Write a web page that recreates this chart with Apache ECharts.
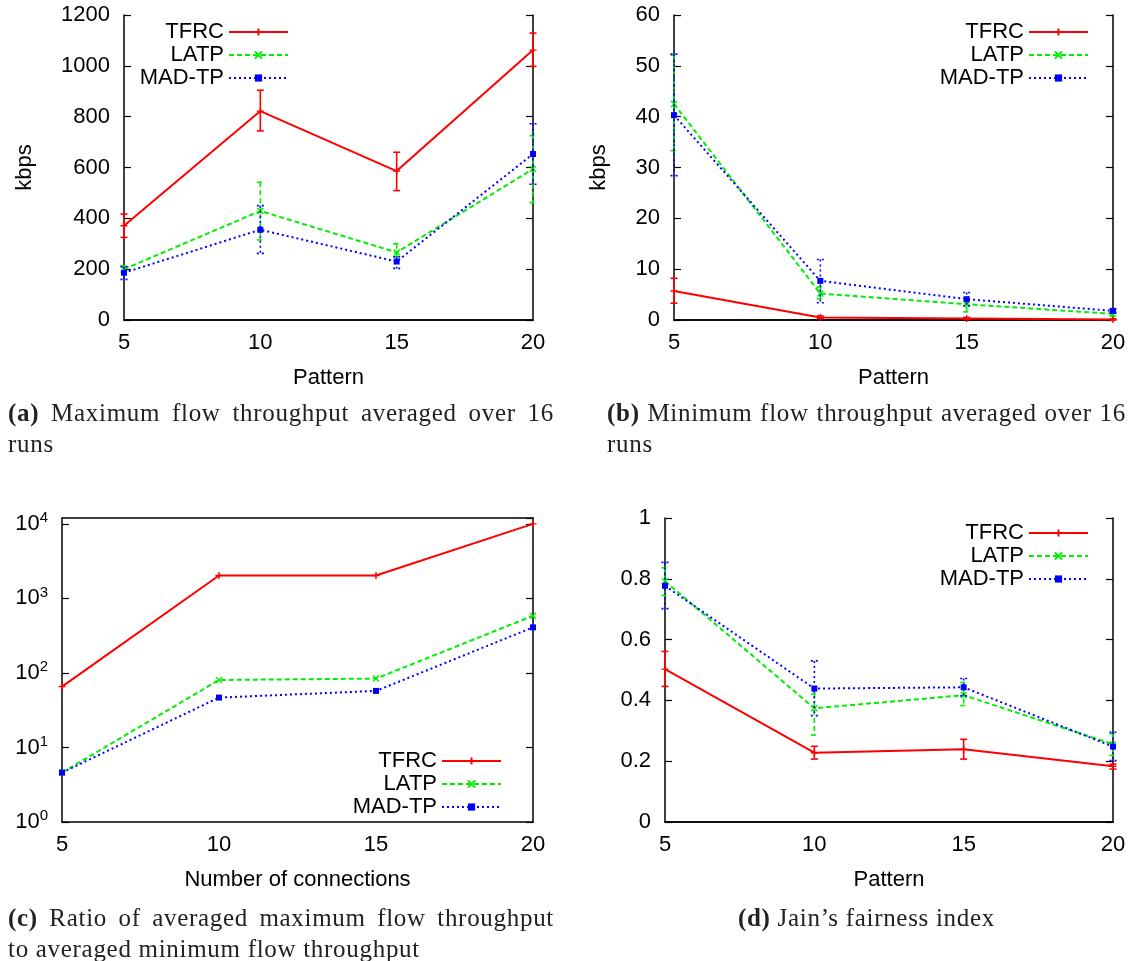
<!DOCTYPE html>
<html>
<head>
<meta charset="utf-8">
<script src="https://cdn.jsdelivr.net/npm/echarts@6/dist/echarts.min.js"></script>
<style>
  html, body { margin: 0; padding: 0; background: #fff; }
  #wrap { position: relative; width: 1129px; height: 961px; }
  #chart { position: absolute; left: 0; top: 0; width: 1129px; height: 961px; }
  .cap { position: absolute; font-family: "Liberation Serif", serif; font-size: 25px; letter-spacing: 0.7px; color: #222; line-height: 31px; }
  .cap .l1 { text-align: justify; text-align-last: justify; white-space: nowrap; }
</style>
</head>
<body>
<div id="wrap">
  <div id="chart"></div>
  <div class="cap" style="left:8px; top:397px; width:546px">
    <div class="l1"><b>(a)</b> Maximum flow throughput averaged over 16</div>
    <div>runs</div>
  </div>
  <div class="cap" style="left:607px; top:397px; width:519px">
    <div class="l1"><b>(b)</b> Minimum flow throughput averaged over 16</div>
    <div>runs</div>
  </div>
  <div class="cap" style="left:8px; top:902px; width:546px">
    <div class="l1"><b>(c)</b> Ratio of averaged maximum flow throughput</div>
    <div>to averaged minimum flow throughput</div>
  </div>
  <div class="cap" style="left:607px; top:902px; width:519px; text-align:center">
    <div><b>(d)</b> Jain’s fairness index</div>
  </div>
</div>
<script>
const patterns = [5, 10, 15, 20];
const names = ["TFRC", "LATP", "MAD-TP"];

// (a) maximum flow throughput (kbps)
const maxTfrc = [371, 822, 586, 1062];
const maxTfrcLo = [325, 744, 509, 998];
const maxTfrcHi = [417, 904, 660, 1129];
const maxLatp = [200, 429, 266, 594];
const maxLatpLo = [188, 315, 249, 462];
const maxLatpHi = [214, 542, 300, 725];
const maxMad = [186, 355, 230, 653];
const maxMadLo = [160, 262, 203, 534];
const maxMadHi = [210, 450, 249, 772];

// (b) minimum flow throughput (kbps)
const minTfrc = [5.7, 0.5, 0.3, 0.1];
const minTfrcLo = [3.3, 0.3, 0.2, 0.0];
const minTfrcHi = [8.2, 0.8, 0.5, 0.2];
const minLatp = [42.5, 5.2, 3.1, 1.2];
const minLatpLo = [33.3, 4.2, 1.6, 0.8];
const minLatpHi = [52.1, 6.5, 4.3, 1.6];
const minMad = [40.3, 7.7, 4.1, 1.8];
const minMadLo = [28.4, 3.4, 2.8, 1.4];
const minMadHi = [52.3, 11.9, 5.4, 2.2];

// (c) ratio max / min, against number of connections
const ratioTfrc = [65.6, 2030, 2030, 10000];
const ratioLatp = [4.6, 80.5, 84, 586];
const ratioMad = [4.6, 46.7, 57.4, 409];

// (d) Jain's fairness index
const jainTfrc = [0.503, 0.228, 0.239, 0.183];
const jainTfrcLo = [0.446, 0.207, 0.207, 0.174];
const jainTfrcHi = [0.561, 0.249, 0.272, 0.190];
const jainLatp = [0.792, 0.374, 0.417, 0.256];
const jainLatpLo = [0.745, 0.286, 0.383, 0.219];
const jainLatpHi = [0.836, 0.421, 0.459, 0.290];
const jainMad = [0.777, 0.439, 0.443, 0.248];
const jainMadLo = [0.702, 0.350, 0.415, 0.202];
const jainMadHi = [0.854, 0.530, 0.472, 0.295];

const font = "Liberation Sans";
const fs = 22;
const looks = [
  { color: "#ff0000", type: "solid", dash: null, symbol: "path://M0,4L8,4M4,0L4,8", size: 7 },
  { color: "#00ee00", type: [5, 3], dash: [5, 3], symbol: "path://M0,0L8,8M8,0L0,8", size: 6 },
  { color: "#0000ff", type: [2, 3], dash: [2, 3], symbol: "rect", size: 6 }
];

function lineSeries(k, gi, values) {
  const look = looks[k];
  return {
    type: "line", name: names[k], xAxisIndex: gi * 2, yAxisIndex: gi * 2,
    data: patterns.map((x, i) => [x, values[i]]),
    symbol: look.symbol, symbolSize: look.size, showSymbol: true,
    lineStyle: { color: look.color, width: 2, type: look.type },
    itemStyle: { color: look.color, borderColor: look.color, borderWidth: k === 2 ? 0 : 1.4 },
    z: 4 + k
  };
}

function errorSeries(k, gi, lo, hi) {
  const look = looks[k];
  return {
    type: "custom", name: names[k] + " error", xAxisIndex: gi * 2, yAxisIndex: gi * 2,
    data: patterns.map((x, i) => [x, lo[i], hi[i]]),
    encode: { x: 0, y: [1, 2] }, silent: true, z: 4 + k,
    renderItem(params, api) {
      const top = api.coord([api.value(0), api.value(2)]);
      const bot = api.coord([api.value(0), api.value(1)]);
      const w = 3.5;
      const style = { stroke: look.color, lineWidth: 1.6, lineDash: look.dash, fill: null };
      return {
        type: "group",
        children: [
          { type: "line", shape: { x1: top[0], y1: top[1], x2: bot[0], y2: bot[1] }, style },
          { type: "line", shape: { x1: top[0] - w, y1: top[1], x2: top[0] + w, y2: top[1] }, style },
          { type: "line", shape: { x1: bot[0] - w, y1: bot[1], x2: bot[0] + w, y2: bot[1] }, style }
        ]
      };
    }
  };
}

const panels = [
  { grid: { left: 124, top: 15, width: 409, height: 305 }, y: { type: "value", min: 0, max: 1200, interval: 200 },
    xName: "Pattern", yName: "kbps", yNameGap: 88,
    legend: { right: 840, top: 21 } },
  { grid: { left: 674, top: 15, width: 439, height: 305 }, y: { type: "value", min: 0, max: 60, interval: 10 },
    xName: "Pattern", yName: "kbps", yNameGap: 64,
    legend: { right: 40, top: 21 } },
  { grid: { left: 62, top: 518, width: 471, height: 304 }, y: { type: "log", logBase: 10, min: 1, max: 12000 },
    xName: "Number of connections", yName: "", yNameGap: 0,
    legend: { right: 627, top: 750 } },
  { grid: { left: 665, top: 518, width: 448, height: 304 }, y: { type: "value", min: 0, max: 1, interval: 0.2 },
    xName: "Pattern", yName: "", yNameGap: 0,
    legend: { right: 40, top: 522 } }
];

const labelStyle = { color: "#000", fontFamily: font, fontSize: fs };
const axisLine = { show: true, lineStyle: { color: "#000", width: 1.5 } };

const grids = [], xAxes = [], yAxes = [], legends = [];
panels.forEach((p, gi) => {
  grids.push(p.grid);
  xAxes.push({
    type: "value", gridIndex: gi, min: 5, max: 20, interval: 5, position: "bottom",
    name: p.xName, nameLocation: "middle", nameGap: 47,
    nameTextStyle: { color: "#000", fontFamily: font, fontSize: fs },
    axisLine, axisTick: { show: false }, splitLine: { show: false },
    axisLabel: { ...labelStyle, margin: 12 }
  });
  xAxes.push({
    type: "value", gridIndex: gi, min: 5, max: 20, interval: 5, position: "top",
    axisLine, axisTick: { show: false }, axisLabel: { show: false }, splitLine: { show: false }
  });
  const isLog = p.y.type === "log";
  const leftLabel = isLog
    ? {
        margin: 14, showMaxLabel: false,
        formatter: v => {
          const e = Math.log10(v);
          return Math.abs(e - Math.round(e)) < 1e-6 ? "{b|10}{s|" + Math.round(e) + "}" : "";
        },
        rich: {
          b: { color: "#000", fontFamily: font, fontSize: fs },
          s: { color: "#000", fontFamily: font, fontSize: 15, padding: [0, 0, 12, 0] }
        }
      }
    : { ...labelStyle, margin: 14, formatter: v => String(v) };
  yAxes.push({
    ...p.y, gridIndex: gi, position: "left",
    name: p.yName, nameLocation: "middle", nameGap: p.yNameGap, nameRotate: 90,
    nameTextStyle: { color: "#000", fontFamily: font, fontSize: fs },
    axisLine, axisTick: { show: true, inside: true, length: 7, lineStyle: { color: "#000", width: 1.2 } },
    splitLine: { show: false }, minorTick: { show: false },
    axisLabel: leftLabel
  });
  yAxes.push({
    ...p.y, gridIndex: gi, position: "right",
    axisLine, axisTick: { show: true, inside: true, length: 7, lineStyle: { color: "#000", width: 1.2 } },
    splitLine: { show: false }, axisLabel: { show: false }
  });
  legends.push({
    ...p.legend, orient: "vertical", align: "right", padding: 0, itemGap: 1,
    itemWidth: 59, itemHeight: 9, selectedMode: false,
    data: names,
    textStyle: { color: "#000", fontFamily: font, fontSize: fs, lineHeight: 22 }
  });
});

const series = [
  lineSeries(0, 0, maxTfrc), lineSeries(1, 0, maxLatp), lineSeries(2, 0, maxMad),
  errorSeries(0, 0, maxTfrcLo, maxTfrcHi), errorSeries(1, 0, maxLatpLo, maxLatpHi), errorSeries(2, 0, maxMadLo, maxMadHi),
  lineSeries(0, 1, minTfrc), lineSeries(1, 1, minLatp), lineSeries(2, 1, minMad),
  errorSeries(0, 1, minTfrcLo, minTfrcHi), errorSeries(1, 1, minLatpLo, minLatpHi), errorSeries(2, 1, minMadLo, minMadHi),
  lineSeries(0, 2, ratioTfrc), lineSeries(1, 2, ratioLatp), lineSeries(2, 2, ratioMad),
  lineSeries(0, 3, jainTfrc), lineSeries(1, 3, jainLatp), lineSeries(2, 3, jainMad),
  errorSeries(0, 3, jainTfrcLo, jainTfrcHi), errorSeries(1, 3, jainLatpLo, jainLatpHi), errorSeries(2, 3, jainMadLo, jainMadHi)
];

const chart = echarts.init(document.getElementById("chart"), null, { renderer: "canvas" });
chart.setOption({
  animation: false,
  backgroundColor: "#fff",
  grid: grids,
  xAxis: xAxes,
  yAxis: yAxes,
  legend: legends,
  series
});
</script>
</body>
</html>
